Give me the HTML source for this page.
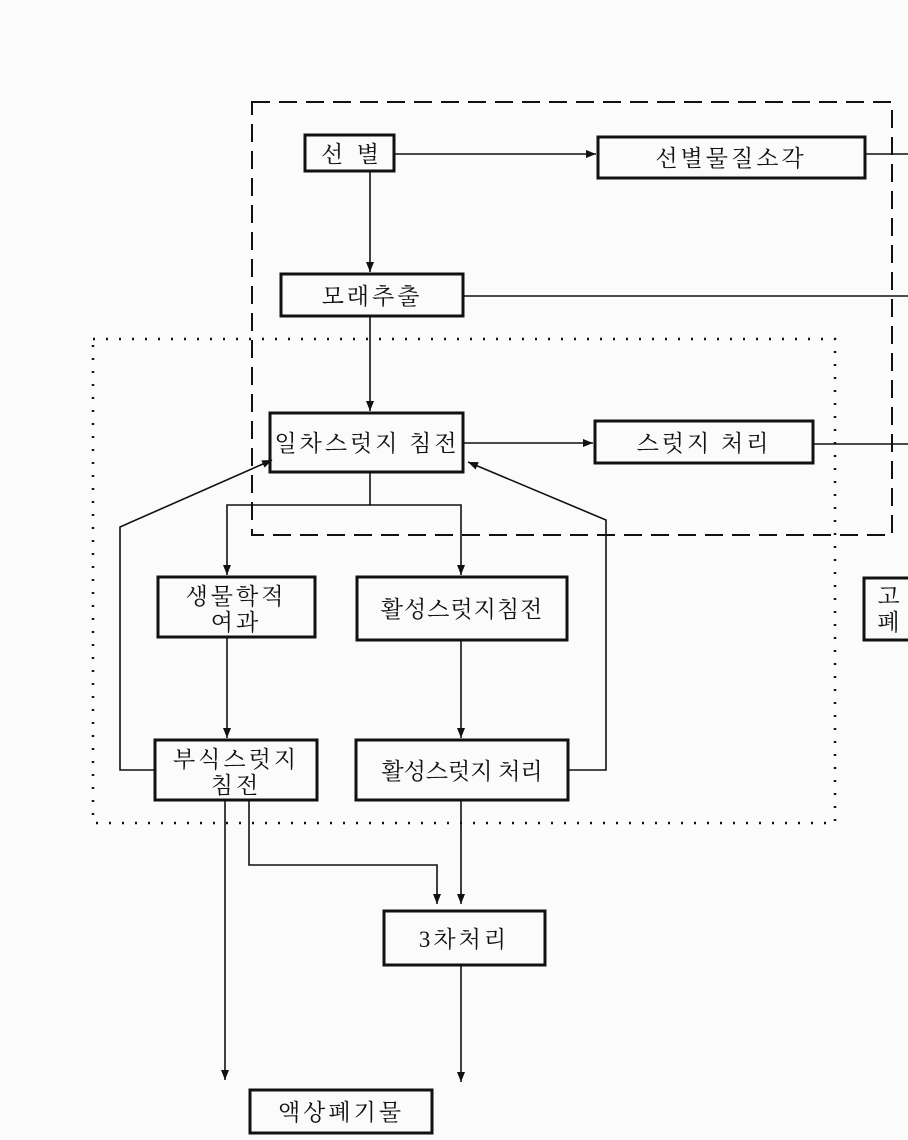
<!DOCTYPE html>
<html><head><meta charset="utf-8"><style>
html,body{margin:0;padding:0;background:#fbfbfb}
svg{display:block}
text{font-family:"Liberation Serif","Noto Serif CJK SC","Noto Sans CJK KR",serif;font-size:23px;fill:#111;text-anchor:middle;letter-spacing:3px}
</style></head><body>
<svg width="908" height="1140" viewBox="0 0 908 1140" xmlns="http://www.w3.org/2000/svg">
<defs><marker id="a" markerWidth="10" markerHeight="8" refX="10" refY="4" orient="auto" markerUnits="userSpaceOnUse"><path d="M0,0 L10,4 L0,8 z" fill="#111"/></marker></defs>
<g fill="none" stroke="#111">
<rect x="252" y="102" width="640" height="433" stroke-width="2" stroke-dasharray="18,9"/>
<rect x="93" y="339" width="742" height="484" stroke-width="2.5" stroke-dasharray="2,11"/>
</g>
<g fill="#fbfbfb" stroke="#111" stroke-width="3">
<rect x="305" y="135" width="89" height="36"/>
<rect x="598" y="137" width="267" height="41"/>
<rect x="281" y="274" width="182" height="42"/>
<rect x="270" y="413" width="193" height="59"/>
<rect x="595" y="421" width="218" height="42"/>
<rect x="158" y="577" width="157" height="60"/>
<rect x="357" y="577" width="210" height="63"/>
<rect x="155" y="740" width="162" height="60"/>
<rect x="356" y="740" width="212" height="60"/>
<rect x="384" y="911" width="161" height="54"/>
<rect x="250" y="1090" width="182" height="43"/>
<rect x="864" y="578" width="50" height="62"/>
</g>
<g fill="none" stroke="#111" stroke-width="1.6">
<line x1="394" y1="154" x2="596" y2="154" marker-end="url(#a)"/>
<line x1="865" y1="154" x2="908" y2="154"/>
<line x1="463" y1="296" x2="908" y2="296"/>
<line x1="813" y1="444" x2="908" y2="444"/>
<line x1="463" y1="443" x2="593" y2="443" marker-end="url(#a)"/>
<line x1="370" y1="171" x2="370" y2="272" marker-end="url(#a)"/>
<line x1="370" y1="316" x2="370" y2="411" marker-end="url(#a)"/>
<polyline points="370,472 370,505 227,505 227,575" marker-end="url(#a)"/>
<polyline points="370,505 461,505 461,575" marker-end="url(#a)"/>
<polyline points="155,770 120,770 120,527 272,460" marker-end="url(#a)"/>
<polyline points="568,770 606,770 606,520 468,462" marker-end="url(#a)"/>
<line x1="227" y1="637" x2="227" y2="738" marker-end="url(#a)"/>
<line x1="461" y1="640" x2="461" y2="738" marker-end="url(#a)"/>
<line x1="225" y1="800" x2="225" y2="1080" marker-end="url(#a)"/>
<polyline points="249,800 249,865 437,865 437,904" marker-end="url(#a)"/>
<line x1="461" y1="800" x2="461" y2="904" marker-end="url(#a)"/>
<line x1="461" y1="965" x2="461" y2="1082" marker-end="url(#a)"/>
</g>
<text x="350" y="162" style="letter-spacing:0" textLength="58" lengthAdjust="spacing">선 별</text>
<text x="731" y="166">선별물질소각</text>
<text x="372" y="304">모래추출</text>
<text x="367" y="451" textLength="185" lengthAdjust="spacingAndGlyphs">일차스럿지 침전</text>
<text x="704" y="451">스럿지 처리</text>
<text x="236" y="604">생물학적</text>
<text x="236" y="630">여과</text>
<text x="462" y="617" style="letter-spacing:1px">활성스럿지침전</text>
<text x="236" y="767">부식스럿지</text>
<text x="236" y="793">침전</text>
<text x="462" y="779" style="letter-spacing:0px">활성스럿지 처리</text>
<text x="464" y="947">3차처리</text>
<text x="341" y="1120">액상폐기물</text>
<text x="890" y="604">고</text>
<text x="890" y="630">폐</text>
</svg>
</body></html>
